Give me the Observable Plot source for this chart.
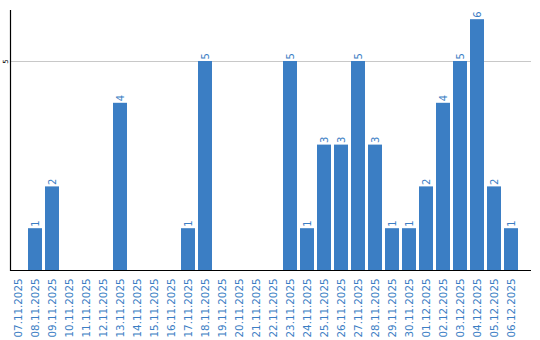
<!DOCTYPE html>
<html>
<head>
<meta charset="utf-8">
<script src="https://cdn.jsdelivr.net/npm/d3@7"></script>
<script src="https://cdn.jsdelivr.net/npm/@observablehq/plot@0.6"></script>
<style>
  html, body { margin: 0; padding: 0; background: #fff; }
  svg { display: block; }
</style>
</head>
<body>
<div id="chart"></div>
<script>
const dates = ["07.11.2025","08.11.2025","09.11.2025","10.11.2025","11.11.2025","12.11.2025","13.11.2025","14.11.2025","15.11.2025","16.11.2025","17.11.2025","18.11.2025","19.11.2025","20.11.2025","21.11.2025","22.11.2025","23.11.2025","24.11.2025","25.11.2025","26.11.2025","27.11.2025","28.11.2025","29.11.2025","30.11.2025","01.12.2025","02.12.2025","03.12.2025","04.12.2025","05.12.2025","06.12.2025"];
const counts = [0,1,2,0,0,0,4,0,0,0,1,5,0,0,0,0,5,1,3,3,5,3,1,1,2,4,5,6,2,1];
const yTicks = [5];

const data = dates.map((d, i) => ({date: d, v: counts[i]}));
const blue = "#3b7ec4";
const W = 540, H = 340, mL = 10, mR = 9, mT = 10, mB = 70;

const chart = Plot.plot({
  width: W,
  height: H,
  marginLeft: mL,
  marginRight: mR,
  marginTop: mT,
  marginBottom: mB,
  style: {fontFamily: "DejaVu Sans, sans-serif", background: "#fff"},
  x: {domain: dates, range: [9.5, 519.5], paddingInner: 0.18, paddingOuter: 0.09, label: null},
  y: {domain: [0, 6.22], label: null},
  marks: [
    Plot.ruleY(yTicks, {stroke: "#c8c8c8", strokeWidth: 1}),
    Plot.barY(data, {x: "date", y: "v", fill: blue}),
    Plot.text(data.filter(d => d.v > 0), {x: "date", y: "v", text: d => String(d.v), rotate: -90, textAnchor: "start", dy: -2, fill: blue, fontSize: 10}),
    Plot.axisX({tickSize: 0, tickRotate: -90, tickPadding: 8, fontSize: 10.3, fill: blue, label: null}),
    Plot.axisY(yTicks, {tickSize: 0, tickRotate: -90, tickPadding: 3, fontSize: 7, fill: "#000", label: null}),
    Plot.ruleY([0], {stroke: "#000", strokeWidth: 1.2}),
    Plot.frame({anchor: "left", stroke: "#000", strokeWidth: 1.2})
  ]
});
document.getElementById("chart").appendChild(chart);
</script>
</body>
</html>
